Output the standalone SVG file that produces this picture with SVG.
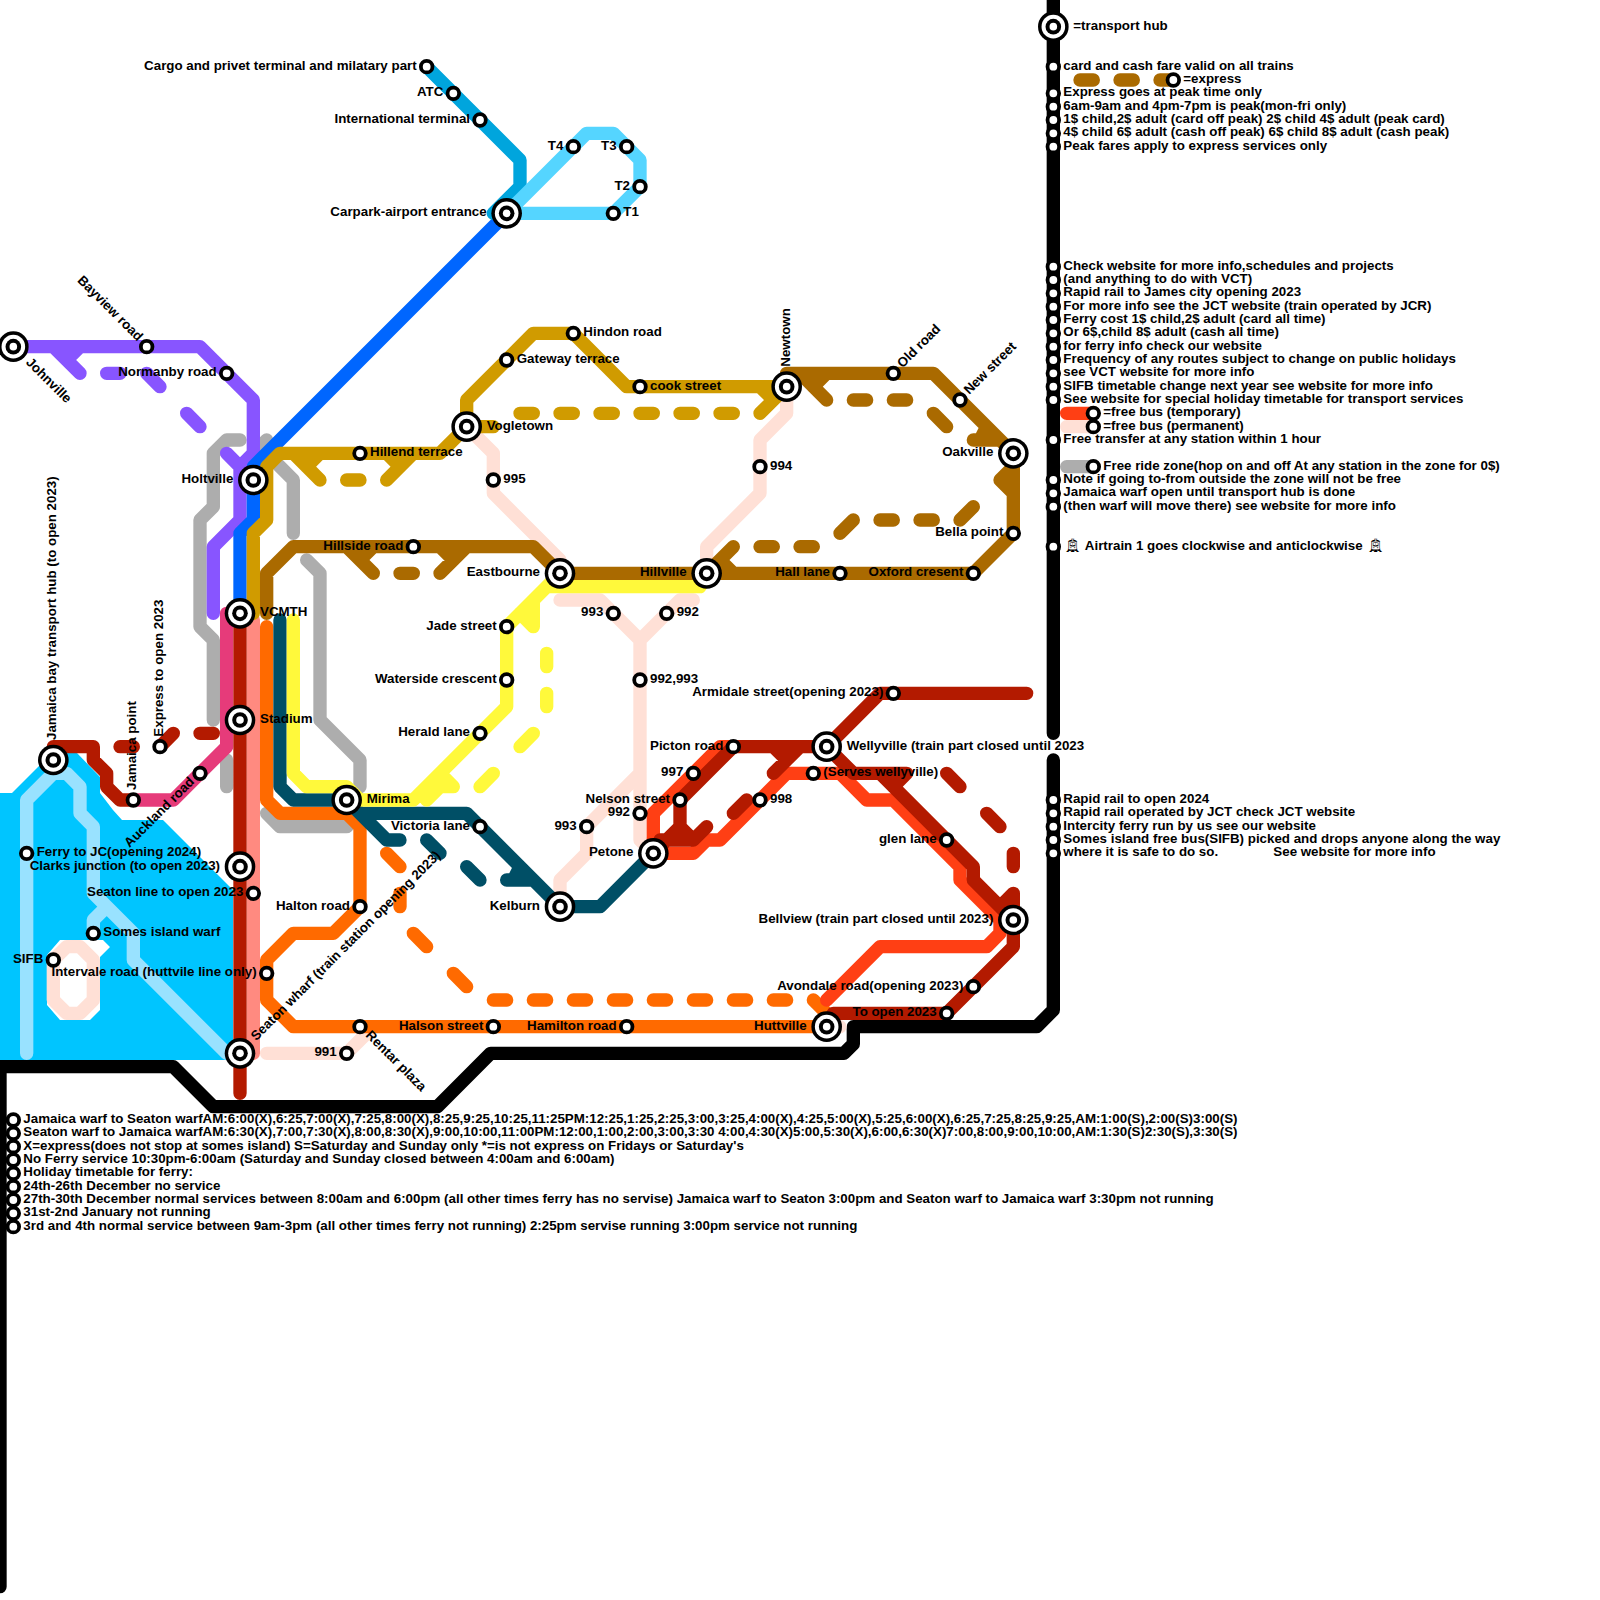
<svg xmlns="http://www.w3.org/2000/svg" width="1600" height="1600" viewBox="0 0 1600 1600">
<style>
text{font:bold 13.33px "Liberation Sans",Arial,sans-serif;fill:#000}
.e{text-anchor:end}
.tram{font-family:"DejaVu Sans",sans-serif;font-weight:normal}
#connectors path{fill:none;stroke-width:1;stroke-linecap:round;stroke-linejoin:round}
.black{stroke:#000}.water{stroke:#99E2FF}.peach{stroke:#FFE0D6}.grey{stroke:#ADADAD}.purple{stroke:#8855FF}.magenta{stroke:#E63B7A}.salmon{stroke:#FF8A80}.red{stroke:#B31A00}.blue{stroke:#0066FF}.air{stroke:#00A5DD}.cyan{stroke:#55D5FF}.gold{stroke:#D09B00}.brown{stroke:#AA6A00}.orange{stroke:#FF6A00}.teal{stroke:#004F66}.yellow{stroke:#FFF93B}.rorange{stroke:#FF3F14}
</style>
<defs>
<g id="h"><circle r="15.3" fill="#000"/><circle r="11.8" fill="#fff"/><circle r="7.8" fill="#000"/><circle r="3.8" fill="#fff"/></g>
<circle id="s" r="5.8" fill="#fff" stroke="#000" stroke-width="3.8"/>
</defs>
<rect width="1600" height="1600" fill="#fff"/>
<polygon id="harbour" fill="#00C5FF" points="0,793 12,793 38,767 53,753 77,753 100,777 100,793 113,810 122,820 163,820 233,890 233,1060 0,1060"/>
<polygon id="island" fill="#fff" points="60,940 103,940 110,947 100,957 100,1010 90,1020 60,1020 47,1005 47,955"/>
<g id="connectors" transform="scale(13.3333)">
<path class="black" d="M79,0V55M79,57V75.75L77.75,77H64V78.3L63.3,79H36.8L32.8,83H16L13,80H0V119"/>
<path class="water" d="M2,79V60L4,58H5L6,59V61L7,62V67L10,70V72L17,79M7,70V69L8,68"/>
<path class="peach" d="M4,72L5,71H6L7,72V75L6,76H5L4,75Z"/>
<path class="peach" d="M20,79H26L28,77M35,32L37,34V37L42,42V43M59,29V31L57,33V37L53,41V43M42,45H45L48,48V63L49,64M52,45H51L48,48M48,58L44,62V64L42,66V68M62,77H63M80,32H82"/>
<path class="grey" d="M18,33H17L16,34V38L15,39V47L16,48V54M17,57V59M19,34L20,33M20,34L22,36V40M23,42L24,43V54L27,57V59M20,61L21,62H26L27,61M80,35H82"/>
<path class="purple" d="M1,26H15L19,30V34L18,35V39L16,41V46M4,26L6,28M5,27L6,26M8,28H9M11,28L12,29M14,31L15,32M17,34L18,35"/>
<path class="magenta" d="M10,60H13L17,56V46"/>
<path class="salmon" d="M19,46.5V79"/>
<path class="blue" d="M38,16L19,35V39L18,40V46"/>
<path class="air" d="M32,5L39,12V14L37,16"/>
<path class="cyan" d="M38,16L44,10H46L48,12V14L46,16H38"/>
<path class="gold" d="M19,46V40L20,39V35L21,34H33L35,32V30L40,25H43L47,29H59M35,32H37M22,34L24,36M23,35L24,34M26,36H27M29,36L31,34M29,34L30,35M39,31H40M42,31H43M45,31H46M48,31H49M51,31H52M54,31H55M57,31L59,29M58,30L57,29"/>
<path class="brown" d="M20,46V43L22,41H40L42,43H73L76,40V34L70,28H59V29M26,41L28,43M27,42L28,41M30,43H31M33,43L35,41M34,42L33,41M60,28L62,30M61,29L62,28M64,30H65M67,30H68M70,31L71,32M73,33H75M73.5,33L74,32M75,36L76,37M75,36L76,35M73,38L72,39M66,39H67M69,39H70M64,39L63,40M57,41H58M60,41H61M55,41L53,43M55,43L54,42M81,6H82M84,6H85M87,6H88"/>
<path class="orange" d="M20,47V60L21,61H26L27,62V68L25,70H22L20,72V75L22,77H62M29,64L30,65M30,67V68M31,70L32,71M34,73L35,74M37,75H38M40,75H41M43,75H44M46,75H47M49,75H50M52,75H53M55,75H56M58,75H59M61,75L62,76"/>
<path class="teal" d="M21,46.5V59L22,60H26L27,61H35L42,68H45L49,64M26,60L29,63H30M32,63L33,64M35,65L36,66M38,66H40M38.5,66L39,65"/>
<path class="yellow" d="M22,46.5V58L23,59H26L27,60H31L38,53V47L41,44H52.5L53,43M41,44L42,43M40,47V45M39,46L40,47M41,49V50M41,52V53M40,55L39,56M37,58L36,59M32,60L33,59H34M34,59L33,58"/>
<path class="rorange" d="M49,64H52L53,63H54L59,58H63L65,60H67L72,65V66L75,69V70L74,71H66L62,75M49,64V61L54,56H55M80,31H82"/>
<path class="red" d="M18,46V82M4,56H7V57L8,58V59L9,60H10M9,56H10M12,56L13,55M15,55H16M62,56H55L51,60V62L49,64M51,62L52,63H49.5M52,63L53,62M56,60L55,61M58,58L60,56M59,57L58,56M62,56L64,58H66L73,65V66L76,69V71L71,76H62.5M66,58H68L67,59M71,58L72,59M74,61L75,62M76,64V65M76,67V69M75,68L76,67M62,56L66,52H77"/>
</g>
<g id="legend-notes">
<g id="hub-key" transform="translate(1053.33,26.67)"><use href="#h"/><text x="20" y="3">=transport hub</text></g>
<g id="note-1" transform="translate(1053.33,66.67)"><use href="#s"/><text x="10" y="3">card and cash fare valid on all trains</text></g>
<g id="key-express" transform="translate(1173.33,80)"><use href="#s"/><text x="10" y="3">=express</text></g>
<g id="note-2" transform="translate(1053.33,93.33)"><use href="#s"/><text x="10" y="3">Express goes at peak time only</text></g>
<g id="note-3" transform="translate(1053.33,106.67)"><use href="#s"/><text x="10" y="3">6am-9am and 4pm-7pm is peak(mon-fri only)</text></g>
<g id="note-4" transform="translate(1053.33,120)"><use href="#s"/><text x="10" y="3">1$ child,2$ adult (card off peak) 2$ child 4$ adult (peak card)</text></g>
<g id="note-5" transform="translate(1053.33,133.33)"><use href="#s"/><text x="10" y="3">4$ child 6$ adult (cash off peak) 6$ child 8$ adult (cash peak)</text></g>
<g id="note-6" transform="translate(1053.33,146.67)"><use href="#s"/><text x="10" y="3">Peak fares apply to express services only</text></g>
<g id="note-7" transform="translate(1053.33,266.67)"><use href="#s"/><text x="10" y="3">Check website for more info,schedules and projects</text></g>
<g id="note-8" transform="translate(1053.33,280)"><use href="#s"/><text x="10" y="3">(and anything to do with VCT)</text></g>
<g id="note-9" transform="translate(1053.33,293.33)"><use href="#s"/><text x="10" y="3">Rapid rail to James city opening 2023</text></g>
<g id="note-10" transform="translate(1053.33,306.67)"><use href="#s"/><text x="10" y="3">For more info see the JCT website (train operated by JCR)</text></g>
<g id="note-11" transform="translate(1053.33,320)"><use href="#s"/><text x="10" y="3">Ferry cost 1$ child,2$ adult (card all time)</text></g>
<g id="note-12" transform="translate(1053.33,333.33)"><use href="#s"/><text x="10" y="3">Or 6$,child 8$ adult (cash all time)</text></g>
<g id="note-13" transform="translate(1053.33,346.67)"><use href="#s"/><text x="10" y="3">for ferry info check our website</text></g>
<g id="note-14" transform="translate(1053.33,360)"><use href="#s"/><text x="10" y="3">Frequency of any routes subject to change on public holidays</text></g>
<g id="note-15" transform="translate(1053.33,373.33)"><use href="#s"/><text x="10" y="3">see VCT website for more info</text></g>
<g id="note-16" transform="translate(1053.33,386.67)"><use href="#s"/><text x="10" y="3">SIFB timetable change next year see website for more info</text></g>
<g id="note-17" transform="translate(1053.33,400)"><use href="#s"/><text x="10" y="3">See website for special holiday timetable for transport services</text></g>
<g id="key-bus-temp" transform="translate(1093.33,413.33)"><use href="#s"/><text x="10" y="3">=free bus (temporary)</text></g>
<g id="key-bus-perm" transform="translate(1093.33,426.67)"><use href="#s"/><text x="10" y="3">=free bus (permanent)</text></g>
<g id="note-18" transform="translate(1053.33,440)"><use href="#s"/><text x="10" y="3">Free transfer at any station within 1 hour</text></g>
<g id="key-free-zone" transform="translate(1093.33,466.67)"><use href="#s"/><text x="10" y="3">Free ride zone(hop on and off At any station in the zone for 0$)</text></g>
<g id="note-19" transform="translate(1053.33,480)"><use href="#s"/><text x="10" y="3">Note if going to-from outside the zone will not be free</text></g>
<g id="note-20" transform="translate(1053.33,493.33)"><use href="#s"/><text x="10" y="3">Jamaica warf open until transport hub is done</text></g>
<g id="note-21" transform="translate(1053.33,506.67)"><use href="#s"/><text x="10" y="3">(then warf will move there) see website for more info</text></g>
<g id="note-22" transform="translate(1053.33,546.67)"><use href="#s"/><text y="3"><tspan class="tram" x="11">🚊︎</tspan><tspan x="31.5">Airtrain 1 goes clockwise and anticlockwise</tspan><tspan class="tram" x="314">🚊︎</tspan></text></g>
<g id="note-23" transform="translate(1053.33,800)"><use href="#s"/><text x="10" y="3">Rapid rail to open 2024</text></g>
<g id="note-24" transform="translate(1053.33,813.33)"><use href="#s"/><text x="10" y="3">Rapid rail operated by JCT check JCT website</text></g>
<g id="note-25" transform="translate(1053.33,826.67)"><use href="#s"/><text x="10" y="3">Intercity ferry run by us see our website</text></g>
<g id="note-26" transform="translate(1053.33,840)"><use href="#s"/><text x="10" y="3">Somes island free bus(SIFB) picked and drops anyone along the way</text></g>
<g id="note-27" transform="translate(1053.33,853.33)"><use href="#s"/><text x="10" y="3">where it is safe to do so.<tspan x="220">See website for more info</tspan></text></g>
<g id="ferry-1" transform="translate(13.33,1120)"><use href="#s"/><text x="10" y="3">Jamaica warf to Seaton warfAM:6:00(X),6:25,7:00(X),7:25,8:00(X),8:25,9:25,10:25,11:25PM:12:25,1:25,2:25,3:00,3:25,4:00(X),4:25,5:00(X),5:25,6:00(X),6:25,7:25,8:25,9:25,AM:1:00(S),2:00(S)3:00(S)</text></g>
<g id="ferry-2" transform="translate(13.33,1133.33)"><use href="#s"/><text x="10" y="3">Seaton warf to Jamaica warfAM:6:30(X),7:00,7:30(X),8:00,8:30(X),9:00,10:00,11:00PM:12:00,1:00,2:00,3:00,3:30 4:00,4:30(X)5:00,5:30(X),6:00,6:30(X)7:00,8:00,9:00,10:00,AM:1:30(S)2:30(S),3:30(S)</text></g>
<g id="ferry-3" transform="translate(13.33,1146.67)"><use href="#s"/><text x="10" y="3">X=express(does not stop at somes island) S=Saturday and Sunday only *=is not express on Fridays or Saturday's</text></g>
<g id="ferry-4" transform="translate(13.33,1160)"><use href="#s"/><text x="10" y="3">No Ferry service 10:30pm-6:00am (Saturday and Sunday closed between 4:00am and 6:00am)</text></g>
<g id="ferry-5" transform="translate(13.33,1173.33)"><use href="#s"/><text x="10" y="3">Holiday timetable for ferry:</text></g>
<g id="ferry-6" transform="translate(13.33,1186.67)"><use href="#s"/><text x="10" y="3">24th-26th December no service</text></g>
<g id="ferry-7" transform="translate(13.33,1200)"><use href="#s"/><text x="10" y="3">27th-30th December normal services between 8:00am and 6:00pm (all other times ferry has no servise) Jamaica warf to Seaton 3:00pm and Seaton warf to Jamaica warf 3:30pm not running</text></g>
<g id="ferry-8" transform="translate(13.33,1213.33)"><use href="#s"/><text x="10" y="3">31st-2nd January not running</text></g>
<g id="ferry-9" transform="translate(13.33,1226.67)"><use href="#s"/><text x="10" y="3">3rd and 4th normal service between 9am-3pm (all other times ferry not running) 2:25pm servise running 3:00pm service not running</text></g>
</g>
<g id="nodes">
<g id="cargo" transform="translate(426.67,66.67)"><use href="#s"/><text class="e" x="-10" y="3">Cargo and privet terminal and milatary part</text></g>
<g id="atc" transform="translate(453.33,93.33)"><use href="#s"/><text class="e" x="-10" y="3">ATC</text></g>
<g id="intl" transform="translate(480,120)"><use href="#s"/><text class="e" x="-10" y="3">International terminal</text></g>
<g id="carpark" transform="translate(506.67,213.33)"><use href="#h"/><text class="e" x="-20" y="3">Carpark-airport entrance</text></g>
<g id="t4" transform="translate(573.33,146.67)"><use href="#s"/><text class="e" x="-10" y="3">T4</text></g>
<g id="t3" transform="translate(626.67,146.67)"><use href="#s"/><text class="e" x="-10" y="3">T3</text></g>
<g id="t2" transform="translate(640,186.67)"><use href="#s"/><text class="e" x="-10" y="3">T2</text></g>
<g id="t1" transform="translate(613.33,213.33)"><use href="#s"/><text x="10" y="3">T1</text></g>
<g id="johnville" transform="translate(13.33,346.67)"><use href="#h"/><text transform="rotate(45)" x="20" y="3">Johnville</text></g>
<g id="bayview" transform="translate(146.67,346.67)"><use href="#s"/><text class="e" transform="rotate(45)" x="-10" y="3">Bayview road</text></g>
<g id="normanby" transform="translate(226.67,373.33)"><use href="#s"/><text class="e" x="-10" y="3">Normanby road</text></g>
<g id="holtville" transform="translate(253.33,480)"><use href="#h"/><text class="e" x="-20" y="3">Holtville</text></g>
<g id="vcmth" transform="translate(240,613.33)"><use href="#h"/><text x="20" y="3">VCMTH</text></g>
<g id="stadium" transform="translate(240,720)"><use href="#h"/><text x="20" y="3">Stadium</text></g>
<g id="jamaica-bay" transform="translate(53.33,760)"><use href="#h"/><text transform="rotate(-90)" x="20" y="3">Jamaica bay transport hub (to open 2023)</text></g>
<g id="jamaica-point" transform="translate(133.33,800)"><use href="#s"/><text transform="rotate(-90)" x="10" y="3">Jamaica point</text></g>
<g id="express-2023" transform="translate(160,746.67)"><use href="#s"/><text transform="rotate(-90)" x="10" y="3">Express to open 2023</text></g>
<g id="auckland" transform="translate(200,773.33)"><use href="#s"/><text class="e" transform="rotate(-45)" x="-10" y="3">Auckland road</text></g>
<g id="mirima" transform="translate(346.67,800)"><use href="#h"/><text x="20" y="3">Mirima</text></g>
<g id="ferry-jc" transform="translate(26.67,853.33)"><use href="#s"/><text x="10" y="3">Ferry to JC(opening 2024)</text></g>
<g id="clarks" transform="translate(240,866.67)"><use href="#h"/><text class="e" x="-20" y="3">Clarks junction (to open 2023)</text></g>
<g id="seaton-line" transform="translate(253.33,893.33)"><use href="#s"/><text class="e" x="-10" y="3">Seaton line to open 2023</text></g>
<g id="somes" transform="translate(93.33,933.33)"><use href="#s"/><text x="10" y="3">Somes island warf</text></g>
<g id="sifb" transform="translate(53.33,960)"><use href="#s"/><text class="e" x="-10" y="3">SIFB</text></g>
<g id="intervale" transform="translate(266.67,973.33)"><use href="#s"/><text class="e" x="-10" y="3">Intervale road (huttvile line only)</text></g>
<g id="seaton-wharf" transform="translate(240,1053.33)"><use href="#h"/><text transform="rotate(-45)" x="20" y="3">Seaton wharf (train station opening 2023)</text></g>
<g id="rentar" transform="translate(360,1026.67)"><use href="#s"/><text transform="rotate(45)" x="10" y="3">Rentar plaza</text></g>
<g id="s991" transform="translate(346.67,1053.33)"><use href="#s"/><text class="e" x="-10" y="3">991</text></g>
<g id="halton" transform="translate(360,906.67)"><use href="#s"/><text class="e" x="-10" y="3">Halton road</text></g>
<g id="hillend" transform="translate(360,453.33)"><use href="#s"/><text x="10" y="3">Hillend terrace</text></g>
<g id="vogletown" transform="translate(466.67,426.67)"><use href="#h"/><text x="20" y="3">Vogletown</text></g>
<g id="gateway" transform="translate(506.67,360)"><use href="#s"/><text x="10" y="3">Gateway terrace</text></g>
<g id="hindon" transform="translate(573.33,333.33)"><use href="#s"/><text x="10" y="3">Hindon road</text></g>
<g id="cook" transform="translate(640,386.67)"><use href="#s"/><text x="10" y="3">cook street</text></g>
<g id="newtown" transform="translate(786.67,386.67)"><use href="#h"/><text transform="rotate(-90)" x="20" y="3">Newtown</text></g>
<g id="old-road" transform="translate(893.33,373.33)"><use href="#s"/><text transform="rotate(-45)" x="10" y="3">Old road</text></g>
<g id="new-street" transform="translate(960,400)"><use href="#s"/><text transform="rotate(-45)" x="10" y="3">New street</text></g>
<g id="oakville" transform="translate(1013.33,453.33)"><use href="#h"/><text class="e" x="-20" y="3">Oakville</text></g>
<g id="s995" transform="translate(493.33,480)"><use href="#s"/><text x="10" y="3">995</text></g>
<g id="s994" transform="translate(760,466.67)"><use href="#s"/><text x="10" y="3">994</text></g>
<g id="bella" transform="translate(1013.33,533.33)"><use href="#s"/><text class="e" x="-10" y="3">Bella point</text></g>
<g id="hillside" transform="translate(413.33,546.67)"><use href="#s"/><text class="e" x="-10" y="3">Hillside road</text></g>
<g id="eastbourne" transform="translate(560,573.33)"><use href="#h"/><text class="e" x="-20" y="3">Eastbourne</text></g>
<g id="hillville" transform="translate(706.67,573.33)"><use href="#h"/><text class="e" x="-20" y="3">Hillville</text></g>
<g id="hall-lane" transform="translate(840,573.33)"><use href="#s"/><text class="e" x="-10" y="3">Hall lane</text></g>
<g id="oxford" transform="translate(973.33,573.33)"><use href="#s"/><text class="e" x="-10" y="3">Oxford cresent</text></g>
<g id="s993a" transform="translate(613.33,613.33)"><use href="#s"/><text class="e" x="-10" y="3">993</text></g>
<g id="s992a" transform="translate(666.67,613.33)"><use href="#s"/><text x="10" y="3">992</text></g>
<g id="jade" transform="translate(506.67,626.67)"><use href="#s"/><text class="e" x="-10" y="3">Jade street</text></g>
<g id="waterside" transform="translate(506.67,680)"><use href="#s"/><text class="e" x="-10" y="3">Waterside crescent</text></g>
<g id="s992-993" transform="translate(640,680)"><use href="#s"/><text x="10" y="3">992,993</text></g>
<g id="herald" transform="translate(480,733.33)"><use href="#s"/><text class="e" x="-10" y="3">Herald lane</text></g>
<g id="armidale" transform="translate(893.33,693.33)"><use href="#s"/><text class="e" x="-10" y="3">Armidale street(opening 2023)</text></g>
<g id="picton" transform="translate(733.33,746.67)"><use href="#s"/><text class="e" x="-10" y="3">Picton road</text></g>
<g id="wellyville" transform="translate(826.67,746.67)"><use href="#h"/><text x="20" y="3">Wellyville (train part closed until 2023</text></g>
<g id="s997" transform="translate(693.33,773.33)"><use href="#s"/><text class="e" x="-10" y="3">997</text></g>
<g id="serves" transform="translate(813.33,773.33)"><use href="#s"/><text x="10" y="3">(Serves wellyville)</text></g>
<g id="nelson" transform="translate(680,800)"><use href="#s"/><text class="e" x="-10" y="3">Nelson street</text></g>
<g id="s998" transform="translate(760,800)"><use href="#s"/><text x="10" y="3">998</text></g>
<g id="s992b" transform="translate(640,813.33)"><use href="#s"/><text class="e" x="-10" y="3">992</text></g>
<g id="s993b" transform="translate(586.67,826.67)"><use href="#s"/><text class="e" x="-10" y="3">993</text></g>
<g id="victoria" transform="translate(480,826.67)"><use href="#s"/><text class="e" x="-10" y="3">Victoria lane</text></g>
<g id="glen" transform="translate(946.67,840)"><use href="#s"/><text class="e" x="-10" y="3">glen lane</text></g>
<g id="petone" transform="translate(653.33,853.33)"><use href="#h"/><text class="e" x="-20" y="3">Petone</text></g>
<g id="kelburn" transform="translate(560,906.67)"><use href="#h"/><text class="e" x="-20" y="3">Kelburn</text></g>
<g id="bellview" transform="translate(1013.33,920)"><use href="#h"/><text class="e" x="-20" y="3">Bellview (train part closed until 2023)</text></g>
<g id="avondale" transform="translate(973.33,986.67)"><use href="#s"/><text class="e" x="-10" y="3">Avondale road(opening 2023)</text></g>
<g id="to-open" transform="translate(946.67,1013.33)"><use href="#s"/><text class="e" x="-10" y="3">To open 2023</text></g>
<g id="huttville" transform="translate(826.67,1026.67)"><use href="#h"/><text class="e" x="-20" y="3">Huttville</text></g>
<g id="halson" transform="translate(493.33,1026.67)"><use href="#s"/><text class="e" x="-10" y="3">Halson street</text></g>
<g id="hamilton" transform="translate(626.67,1026.67)"><use href="#s"/><text class="e" x="-10" y="3">Hamilton road</text></g>
</g>
</svg>
